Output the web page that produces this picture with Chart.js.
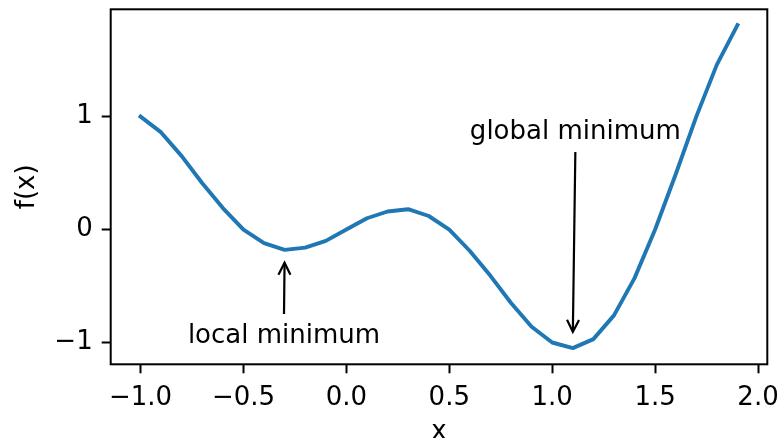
<!DOCTYPE html>
<html lang="en">
<head>
    <meta charset="UTF-8">
    <title>f(x) with local and global minimum</title>
    <script src="https://cdn.jsdelivr.net/npm/chart.js"></script>
    <style>
        html, body { margin: 0; padding: 0; background: #fff; overflow: hidden; }
        canvas { display: block; }
    </style>
</head>
<body>
    <canvas id="fxChart" width="780" height="438"></canvas>

    <script>
        // values
        const xValues = [-1.0, -0.9, -0.8, -0.7, -0.6, -0.5, -0.4, -0.3, -0.2, -0.1,
                          0.0,  0.1,  0.2,  0.3,  0.4,  0.5,  0.6,  0.7,  0.8,  0.9,
                          1.0,  1.1,  1.2,  1.3,  1.4,  1.5,  1.6,  1.7,  1.8,  1.9];
        const fValues = [1.00, 0.86, 0.65, 0.41, 0.19, 0.00, -0.12, -0.18, -0.16, -0.10,
                         0.00, 0.10, 0.16, 0.18, 0.12, 0.00, -0.19, -0.41, -0.65, -0.86,
                        -1.00, -1.05, -0.97, -0.76, -0.43, 0.00, 0.49, 1.00, 1.46, 1.81];
        const xTicks = [-1.0, -0.5, 0.0, 0.5, 1.0, 1.5, 2.0];
        const yTicks = [-1, 0, 1];

        // annotation texts, where the text sits and where the arrow points (data units)
        const noteLabels = ["local minimum", "global minimum"];
        const noteTextAt = [[-0.77, -1.0], [0.6, 0.8]];
        const notePointAt = [[-0.3, -0.25], [1.1, -0.95]];

        const FONT = "DejaVu Sans";
        const FS = 26;

        const minus = s => s.replace("-", "\u2212");

        // stop Chart.js from adding room for the outer tick labels
        const noPad = s => {
            s.paddingTop = 0; s.paddingBottom = 0;
            s.paddingLeft = 0; s.paddingRight = 0;
        };

        // frame round the plot area
        const framePlugin = {
            id: "frame",
            afterDraw(chart) {
                const { ctx, chartArea: a } = chart;
                ctx.save();
                ctx.strokeStyle = "#000";
                ctx.lineWidth = 2;
                ctx.strokeRect(a.left, a.top, a.right - a.left, a.bottom - a.top);
                ctx.restore();
            }
        };

        // text + arrow annotations
        const notePlugin = {
            id: "notes",
            afterDatasetsDraw(chart) {
                const { ctx, scales: { x, y } } = chart;
                ctx.save();
                ctx.font = FS + "px '" + FONT + "'";
                ctx.fillStyle = "#000";
                ctx.strokeStyle = "#000";
                ctx.textBaseline = "alphabetic";
                ctx.textAlign = "left";
                noteLabels.forEach((label, i) => {
                    const tx = x.getPixelForValue(noteTextAt[i][0]);
                    const ty = y.getPixelForValue(noteTextAt[i][1]);
                    const w = ctx.measureText(label).width;
                    ctx.fillText(label, tx, ty);

                    const px = x.getPixelForValue(notePointAt[i][0]);
                    const py = y.getPixelForValue(notePointAt[i][1]);
                    const cx = tx + w / 2;
                    // start at the text box edge facing the point
                    let sy = py < ty ? ty - 0.9 * FS - 5 : ty + 0.3 * FS + 5;
                    const dx = px - cx, dy = py - sy;
                    const len = Math.hypot(dx, dy);
                    const ux = dx / len, uy = dy / len;
                    const ex = px - ux * 5, ey = py - uy * 5;

                    ctx.lineWidth = 2.2;
                    ctx.lineCap = "butt";
                    ctx.beginPath();
                    ctx.moveTo(cx, sy);
                    ctx.lineTo(ex, ey);
                    ctx.stroke();

                    // open arrow head
                    const hl = 12, hw = 6;
                    ctx.lineJoin = "miter";
                    ctx.beginPath();
                    ctx.moveTo(ex - ux * hl - uy * hw, ey - uy * hl + ux * hw);
                    ctx.lineTo(ex, ey);
                    ctx.lineTo(ex - ux * hl + uy * hw, ey - uy * hl - ux * hw);
                    ctx.stroke();
                });
                ctx.restore();
            }
        };

        Chart.defaults.font.family = FONT;
        Chart.defaults.font.size = FS;
        Chart.defaults.color = "#000";

        const ctx = document.getElementById("fxChart").getContext("2d");
        new Chart(ctx, {
            type: "line",
            data: {
                datasets: [{
                    data: xValues.map((v, i) => ({ x: v, y: fValues[i] })),
                    borderColor: "#1f77b4",
                    borderWidth: 3.9,
                    borderJoinStyle: "round",
                    borderCapStyle: "square",
                    pointRadius: 0,
                    tension: 0,
                    fill: false
                }]
            },
            options: {
                responsive: false,
                animation: false,
                layout: { padding: { left: 0, top: 9.3, right: 12.7, bottom: 0 } },
                plugins: {
                    legend: { display: false },
                    tooltip: { enabled: false }
                },
                scales: {
                    x: {
                        type: "linear",
                        position: "bottom",
                        min: -1.145,
                        max: 2.045,
                        afterBuildTicks: s => { s.ticks = xTicks.map(v => ({ value: v })); },
                        afterFit: s => { s.height = 73.7; noPad(s); },
                        border: { display: false },
                        grid: {
                            drawOnChartArea: false,
                            drawTicks: true,
                            tickLength: 9,
                            tickColor: "#000",
                            tickWidth: 2
                        },
                        ticks: {
                            padding: 9,
                            maxRotation: 0,
                            autoSkip: false,
                            callback: v => minus(v.toFixed(1))
                        },
                        title: {
                            display: true,
                            text: "x",
                            font: { size: FS, lineHeight: 1 },
                            padding: { top: 0, bottom: -7 }
                        }
                    },
                    y: {
                        type: "linear",
                        position: "left",
                        min: -1.193,
                        max: 1.95,
                        afterBuildTicks: s => { s.ticks = yTicks.map(v => ({ value: v })); },
                        afterFit: s => { s.width = 110.7; noPad(s); },
                        border: { display: false },
                        grid: {
                            drawOnChartArea: false,
                            drawTicks: true,
                            tickLength: 9,
                            tickColor: "#000",
                            tickWidth: 2
                        },
                        ticks: {
                            padding: 9,
                            autoSkip: false,
                            callback: v => minus(String(v))
                        },
                        title: {
                            display: true,
                            text: "f(x)",
                            font: { size: FS, lineHeight: 1 },
                            padding: { top: 14.7, bottom: 0 }
                        }
                    }
                }
            },
            plugins: [framePlugin, notePlugin]
        });
    </script>
</body>
</html>
